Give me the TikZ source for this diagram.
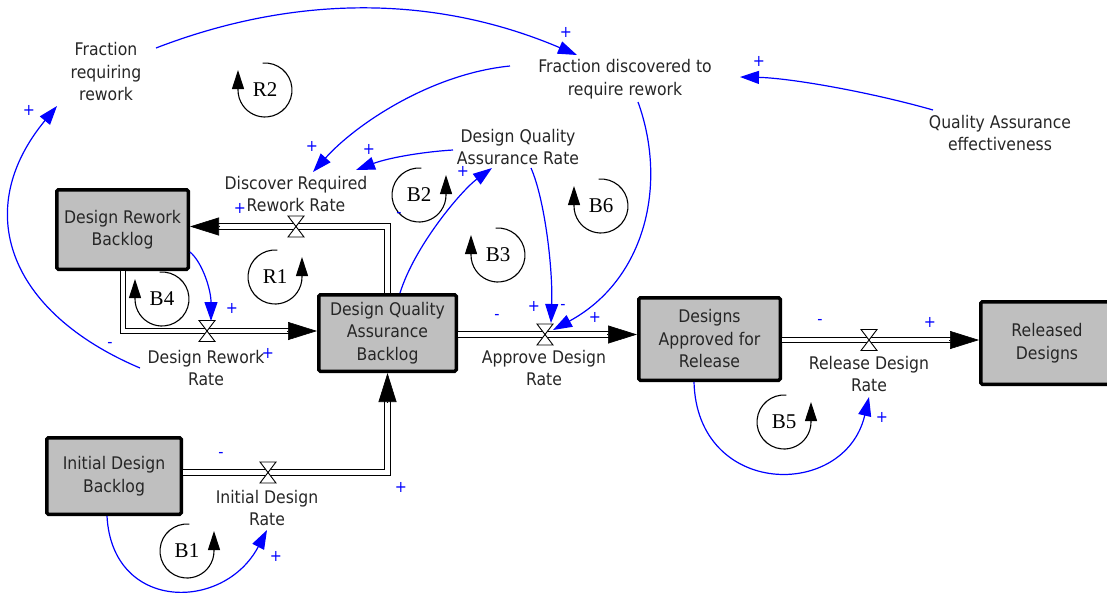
\documentclass[tikz,border=0pt]{standalone}
\usepackage{fontspec}
\setmainfont{DejaVu Sans}[FakeStretch=0.9]
\newfontfamily\loopfont{Liberation Serif}
\usetikzlibrary{arrows.meta,calc}
\tikzset{
  txt/.style={align=center, font=\fontsize{17.4}{22.5}\selectfont, inner sep=1pt, text=black!85},
  stock/.style={txt, draw=black, line width=3.5pt, fill=gray!50, rounded corners=1.5pt},
  pipe/.style={draw=black, line width=1.2pt, double=white, double distance=4.5pt, shorten >=14pt},
  pipetip/.style={draw=black, line width=0.6pt, -{Triangle[length=29pt,width=18pt]}},
  valvesh/.style={draw=black, line width=0.9pt, fill=white},
  link/.style={draw=blue, line width=1.2pt, -{Triangle[length=19pt,width=13pt]}},
  pol/.style={text=blue, font=\fontsize{16}{16}\selectfont, inner sep=0pt},
  loopline/.style={draw=black, line width=1.1pt, -{Triangle[length=19pt,width=12pt]}},
  looplbl/.style={font=\loopfont\fontsize{21}{21}\selectfont, inner sep=0pt},
  pics/cwloop/.style={code={
    \draw[loopline] (95:27) arc[start angle=95,end angle=-180,radius=27] -- ++(0,20);
    \node[looplbl] (-t) {#1};}},
  pics/ccwloop/.style={code={
    \draw[loopline] (85:27) arc[start angle=85,end angle=360,radius=27] -- ++(0,20);
    \node[looplbl] (-t) {#1};}}
}
\begin{document}
\begin{tikzpicture}[x=1pt,y=1pt]
\useasboundingbox (0,0) rectangle (1107,-592);

% auxiliary variables and rates (text)
\node[txt] (frr)  at (106,-72)  {Fraction\\requiring\\rework};
\node[txt] (fdr)  at (625,-79)  {Fraction discovered to\\require rework};
\node[txt] (qae)  at (1000,-133) {Quality Assurance\\effectiveness};
\node[txt] (dqar) at (518,-147) {Design Quality\\Assurance Rate};
\node[txt] (drrr) at (296,-194) {Discover Required\\Rework Rate};
\node[txt] (drr)  at (206,-368) {Design Rework\\Rate};
\node[txt] (idr)  at (267,-508) {Initial Design\\Rate};
\node[txt] (adr)  at (544,-368) {Approve Design\\Rate};
\node[txt] (rdr)  at (869,-374) {Release Design\\Rate};

% stocks
\node[stock, minimum width=131.5pt, minimum height=79.5pt] (drb)  at (122.5,-229.5) {Design Rework\\Backlog};
\node[stock, minimum width=137.5pt, minimum height=76.5pt] (dqab) at (387.5,-333) {Design Quality\\Assurance\\Backlog};
\node[stock, minimum width=134.5pt, minimum height=76.5pt] (idb)  at (114,-476) {Initial Design\\Backlog};
\node[stock, minimum width=141.5pt, minimum height=82.5pt] (dar)  at (709.5,-339) {Designs\\Approved for\\Release};
\node[stock, minimum width=132.5pt, minimum height=82.5pt] (rd)   at (1047,-343) {Released\\Designs};

% valve positions
\coordinate (v1) at (296,-226.5);
\coordinate (v2) at (207,-331);
\coordinate (v3) at (268,-472.5);
\coordinate (v4) at (545,-334.5);
\coordinate (v5) at (869,-340);

% pipes (flows)
\draw[pipe] (dqab.north) |- ([yshift=3pt]drb.east);
\draw[pipetip] ([shift={(30,3)}]drb.east) -- ([yshift=3pt]drb.east);
\draw[pipe] ([xshift=0.5pt]drb.south) |- ([yshift=2pt]dqab.west);
\draw[pipetip] ([shift={(-30,2)}]dqab.west) -- ([yshift=2pt]dqab.west);
\draw[pipe] ([yshift=3.5pt]idb.east) -| (dqab.south);
\draw[pipetip] ([yshift=-30pt]dqab.south) -- (dqab.south);
\draw[pipe] ([yshift=-1.5pt]dqab.east) -- ([yshift=4.5pt]dar.west);
\draw[pipetip] ([shift={(-30,4.5)}]dar.west) -- ([yshift=4.5pt]dar.west);
\draw[pipe] ([yshift=-1pt]dar.east) -- ([yshift=3pt]rd.west);
\draw[pipetip] ([shift={(-30,3)}]rd.west) -- ([yshift=3pt]rd.west);

% valves
\foreach \v in {v1,v2,v3,v4,v5}
  \path[valvesh] (\v) +(-8,10.5) -- +(8,10.5) -- +(-8,-10.5) -- +(8,-10.5) -- cycle;

% loop markers
\pic (R2) at (265,-90)  {cwloop=R2};
\pic (R1) at (275,-277) {ccwloop=R1};
\pic (B4) at (162,-299) {cwloop=B4};
\pic (B2) at (419,-195) {ccwloop=B2};
\pic (B3) at (498,-255) {cwloop=B3};
\pic (B6) at (601,-206) {cwloop=B6};
\pic (B5) at (784,-422) {ccwloop=B5};
\pic (B1) at (187,-551) {ccwloop=B1};

% causal links
\draw[link] ([shift={(50,24)}]frr.center) .. controls +(140,54) and +(-141,60) .. ([shift={(-48,24)}]fdr.center);
\draw[link] ([shift={(-115,13)}]fdr.center) .. controls +(-80,-8) and +(42,47) .. ([shift={(17,22)}]drrr.center);
\draw[link] ([shift={(-65,-3)}]dqar.center) .. controls +(-32,-2) and +(32,12) .. ([shift={(60,24)}]drrr.center);
\draw[link] ([xshift=12.5pt]dqab.north) .. controls +(15,48) and +(-30,-22) .. ([shift={(-26,-21)}]dqar.center);
\draw[link] ([shift={(13,-21)}]dqar.center) .. controls +(14,-32) and +(2,53) .. ([shift={(6,11.5)}]v4);
\draw[link] ([shift={(13,-23)}]fdr.center) .. controls +(30,-83) and +(92,50) .. ([shift={(8,4.5)}]v4);
\draw[link] ([shift={(-67,23)}]qae.center) .. controls +(-63,18) and +(50,-1) .. ([shift={(115,2)}]fdr.center);
\draw[link] ([yshift=-22.5pt]drb.east) .. controls +(12,-10) and +(0,32) .. ([shift={(4,10)}]v2);
\draw[link] ([xshift=-66pt]drr.center) .. controls +(-132,56) and +(-86,-104) .. ([shift={(-49,-34)}]frr.center);
\draw[link] ([xshift=-7pt]idb.south) .. controls +(5,-96) and +(-43,-82) .. ([yshift=-22pt]idr.center);
\draw[link] ([xshift=-15.5pt]dar.south) .. controls +(3,-116) and +(-24,-103) .. ([yshift=-23pt]rdr.center);

% polarity signs
\foreach \x/\y/\s [count=\i] in {566/32/+, 29/110/+, 312/146/+, 369/149/+, 463/171/+, 759/61/+,
   240/208/+, 399/215/-, 232/308/+, 268/353/+, 110/345/-, 497/317/-, 534/306/+, 563/307/-,
   595/317/+, 820/322/-, 930/322/+, 882/417/+, 221/455/-, 401/487/+, 276/556/+}
  \node[pol] (p\i) at (\x,-\y) {\s};
\end{tikzpicture}
\end{document}
